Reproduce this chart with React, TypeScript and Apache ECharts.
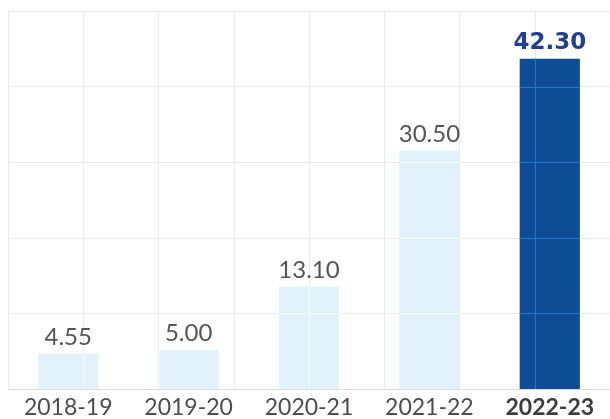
import React, { useEffect, useRef } from "react";
import * as echarts from "echarts";

const categories = ["2018-19", "2019-20", "2020-21", "2021-22", "2022-23"];
const values = [4.55, 5.0, 13.1, 30.5, 42.3];
const highlightIndex = 4;

const Y_MAX = 48.4;
const Y_SPLITS = 5;
const Y_INTERVAL = Y_MAX / Y_SPLITS;
const X_SPLITS = 8;

const LIGHT = "#e1f2fc";
const DARK = "#0e4d94";
const GRID_LINE = "#ebebeb";

export default function App() {
  const ref = useRef<HTMLDivElement>(null);

  useEffect(() => {
    if (!ref.current) return;
    const chart = echarts.init(ref.current, undefined, { renderer: "svg" });

    const barData = values.map((v, i) =>
      i === highlightIndex
        ? {
            value: v,
            itemStyle: { color: DARK },
            label: {
              color: "#22408f",
              fontWeight: "bold",
              fontFamily: "DejaVu Sans",
              fontSize: 23,
            },
          }
        : { value: v, itemStyle: { color: LIGHT } }
    );

    const option: any = {
      animation: false,
      grid: { left: 8, top: 11, width: 605, height: 378, containLabel: false },
      xAxis: [
        {
          type: "category",
          data: categories,
          axisLine: { show: true, lineStyle: { color: "#dddddd", width: 1 } },
          axisTick: { show: false },
          splitLine: { show: false },
          axisLabel: {
            margin: 8,
            formatter: (v: string, i: number) =>
              i === highlightIndex ? "{b|" + v + "}" : "{a|" + v + "}",
            rich: {
              a: { fontFamily: "Lato", fontSize: 23, lineHeight: 18, color: "#4d4d4d" },
              b: {
                fontFamily: "Lato",
                fontSize: 23,
                lineHeight: 18,
                color: "#3d3d3d",
                fontWeight: "bold",
              },
            },
          },
        },
        {
          type: "value",
          min: 0,
          max: X_SPLITS,
          interval: 1,
          position: "top",
          axisLine: { show: false },
          axisTick: { show: false },
          axisLabel: { show: false },
          splitLine: { show: true, lineStyle: { color: GRID_LINE, width: 1 } },
        },
      ],
      yAxis: {
        type: "value",
        min: 0,
        max: Y_MAX,
        interval: Y_INTERVAL,
        axisLine: { show: false },
        axisTick: { show: false },
        axisLabel: { show: false },
        splitLine: { show: true, lineStyle: { color: GRID_LINE, width: 1 } },
      },
      series: [
        {
          type: "bar",
          xAxisIndex: 0,
          data: barData,
          barWidth: "50%",
          label: {
            show: true,
            position: "top",
            distance: 6,
            fontFamily: "Lato",
            fontSize: 24,
            color: "#555555",
            formatter: (p: any) => Number(p.value).toFixed(2),
          },
        },
        {
          type: "custom",
          xAxisIndex: 0,
          silent: true,
          z: 3,
          data: values.map((v, i) => [i, v]),
          renderItem: (params: any, api: any) => {
            const i = api.value(0);
            const v = api.value(1);
            const top = api.coord([i, v]);
            const base = api.coord([i, 0]);
            const w = api.size([1, 0])[0] * 0.5;
            const left = top[0] - w / 2;
            const right = top[0] + w / 2;
            const cs = params.coordSys;
            const color = i === highlightIndex ? "#2673d2" : "#f6fbff";
            const children: any[] = [];
            for (let j = 0; j <= X_SPLITS; j++) {
              const x = Math.round(cs.x + (j * cs.width) / X_SPLITS) + 0.5;
              if (x > left && x < right) {
                children.push({
                  type: "line",
                  shape: { x1: x, y1: top[1], x2: x, y2: base[1] },
                  style: { stroke: color, lineWidth: 1 },
                });
              }
            }
            for (let k = 1; k <= Y_SPLITS; k++) {
              const y = Math.round(api.coord([i, k * Y_INTERVAL])[1]) + 0.5;
              if (y > top[1] && y < base[1]) {
                children.push({
                  type: "line",
                  shape: { x1: left, y1: y, x2: right, y2: y },
                  style: { stroke: color, lineWidth: 1 },
                });
              }
            }
            return { type: "group", children };
          },
        },
      ],
    };

    chart.setOption(option);
    return () => chart.dispose();
  }, []);

  return (
    <div
      ref={ref}
      style={{ position: "fixed", left: 0, top: 0, width: 610, height: 419 }}
    />
  );
}
